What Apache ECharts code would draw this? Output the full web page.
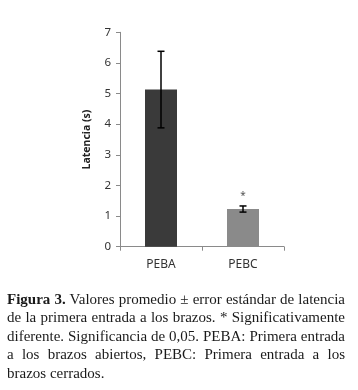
<!DOCTYPE html>
<html>
<head>
<meta charset="utf-8">
<script src="https://cdn.jsdelivr.net/npm/echarts@6/dist/echarts.min.js"></script>
<style>
html,body{margin:0;padding:0;background:#fff;}
#wrap{position:relative;width:358px;height:390px;overflow:hidden;}
#chart{position:absolute;left:0;top:0;width:358px;height:390px;}
#cap{position:absolute;left:7px;top:290px;width:338px;font-family:"Liberation Serif","DejaVu Serif",serif;font-size:15px;line-height:18.4px;color:#1a1a1a;}
#cap div{text-align:justify;text-align-last:justify;white-space:nowrap;}
#cap div.last{text-align-last:left;}
</style>
</head>
<body>
<div id="wrap">
<div id="chart"></div>
<div id="cap">
<div><b>Figura 3.</b> Valores promedio ± error estándar de latencia</div>
<div>de la primera entrada a los brazos. * Significativamente</div>
<div>diferente. Significancia de 0,05. PEBA: Primera entrada</div>
<div>a los brazos abiertos, PEBC: Primera entrada a los</div>
<div class="last">brazos cerrados.</div>
</div>
</div>
<script>
const categories = ["PEBA", "PEBC"];
const means = [5.13, 1.23];
const errors = [1.25, 0.1];
const marks = ["", "*"];
const barColors = ["#3a3a3a", "#8a8a8a"];
const yTicks = [0, 1, 2, 3, 4, 5, 6, 7];

const chart = echarts.init(document.getElementById('chart'), null, {renderer: 'canvas'});
const errData = categories.map((c, i) => [i, means[i] - errors[i], means[i] + errors[i], marks[i]]);

chart.setOption({
  animation: false,
  grid: {left: 120, right: 74, top: 32.3, bottom: 143.3, containLabel: false},
  xAxis: {
    type: 'category',
    data: categories,
    axisLine: {lineStyle: {color: '#8a8a8a', width: 1}},
    axisTick: {show: true, length: 4, lineStyle: {color: '#8a8a8a'}},
    axisLabel: {color: '#333', fontSize: 12, fontFamily: 'Noto Sans', margin: 12}
  },
  yAxis: {
    type: 'value',
    min: yTicks[0], max: yTicks[yTicks.length - 1], interval: 1,
    name: 'Latencia (s)',
    nameLocation: 'middle',
    nameGap: 27,
    nameTextStyle: {color: '#222', fontSize: 10.5, fontWeight: 'bold', fontFamily: 'Noto Sans'},
    axisLine: {show: true, lineStyle: {color: '#8a8a8a', width: 1}},
    axisTick: {show: true, length: 4, lineStyle: {color: '#8a8a8a'}},
    axisLabel: {color: '#333', fontSize: 11.5, fontFamily: 'Noto Sans', margin: 9},
    splitLine: {show: false}
  },
  series: [
    {
      type: 'bar',
      barWidth: 32,
      data: means.map((v, i) => ({value: v, itemStyle: {color: barColors[i]}}))
    },
    {
      type: 'custom',
      data: errData,
      z: 10,
      renderItem: function (params, api) {
        const x = api.value(0);
        const lo = api.coord([x, api.value(1)]);
        const hi = api.coord([x, api.value(2)]);
        const cw = 3.5;
        const st = {stroke: '#000', lineWidth: 1.5};
        const children = [
          {type: 'line', shape: {x1: lo[0], y1: lo[1], x2: hi[0], y2: hi[1]}, style: st},
          {type: 'line', shape: {x1: lo[0] - cw, y1: lo[1], x2: lo[0] + cw, y2: lo[1]}, style: st},
          {type: 'line', shape: {x1: hi[0] - cw, y1: hi[1], x2: hi[0] + cw, y2: hi[1]}, style: st}
        ];
        const m = marks[params.dataIndex];
        if (m) {
          children.push({type: 'text', style: {text: m, x: hi[0], y: hi[1] - 10, align: 'center', verticalAlign: 'middle', fill: '#555', font: '10px Noto Sans'}});
        }
        return {type: 'group', children: children};
      }
    }
  ]
});
</script>
</body>
</html>
